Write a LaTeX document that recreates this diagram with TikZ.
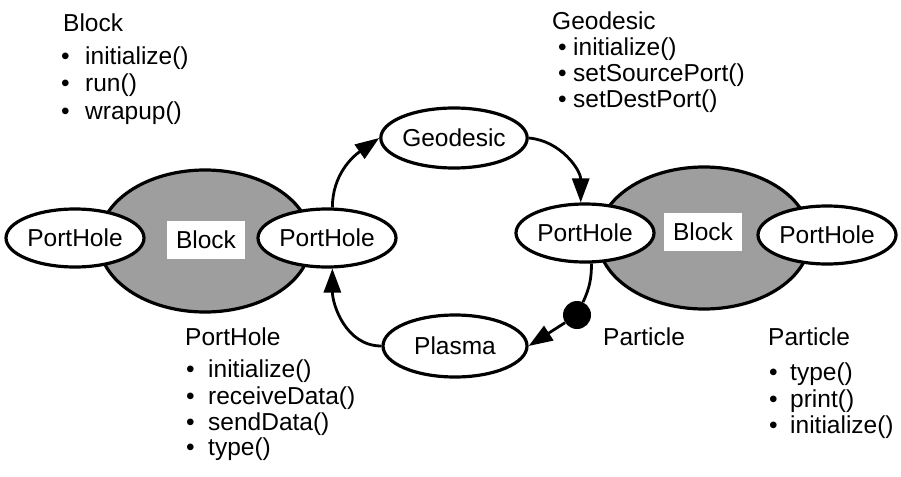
\documentclass[tikz,border=0pt]{standalone}
\usepackage{fontspec}
\setmainfont{Liberation Sans}
\usetikzlibrary{shapes.geometric,arrows.meta}
\begin{document}
\begin{tikzpicture}[x=1pt,y=-1pt,
  every node/.style={font=\fontsize{24.5}{28}\selectfont},
  blockbody/.style={ellipse,draw,line width=3.2pt,fill=black!38,
    minimum width=212pt,minimum height=142pt,inner sep=0pt},
  blocklabel/.style={fill=white,inner sep=0pt,minimum width=78pt,minimum height=38pt},
  port/.style={ellipse,draw,line width=3.2pt,fill=white,
    minimum width=138pt,minimum height=58pt,inner sep=0pt},
  flow/.style={line width=2.8pt,-{Triangle[length=24pt,width=17pt]}},
  plainflow/.style={line width=2.8pt},
  txt/.style={anchor=base west,inner sep=0pt},
]
\useasboundingbox (0,0) rectangle (901,476);

% left block with its two portholes
\node[blockbody] (blkA) at (205,241) {};
\node[blocklabel] (blkAlbl) at (206,240) {Block};
\node[port] (phA1) at (75,238) {PortHole};
\node[port] (phA2) at (327,238) {PortHole};

% right block with its two portholes
\node[blockbody] (blkB) at (704,238) {};
\node[blocklabel] (blkBlbl) at (703,232) {Block};
\node[port] (phB1) at (585,233) {PortHole};
\node[port] (phB2) at (827,235) {PortHole};

% geodesic and plasma
\node[port,minimum width=140pt,minimum height=60pt] (geo) at (454,138) {Geodesic};
\node[port,minimum width=144pt,minimum height=62pt] (pla) at (455,346) {Plasma};

% particle
\node[circle,fill=black,minimum size=28pt,inner sep=0pt] (part) at (577,315) {};

% connectors
\draw[flow] (phA2.80) to[out=90,in=215] (geo.west);
\draw[flow] (geo.east) to[out=-5,in=90] (phB1.98);
\draw[plainflow] (phB1.-78) to[out=-90,in=65] (part);
\draw[flow] (part) -- (pla.east);
\draw[flow] (pla.west) to[out=180,in=-90] (phA2.-80);

% method lists
\node[txt] (tBlock) at (63,32) {Block};
\node[txt] (bBlock1) at (61,65) {•};
\node[txt] (iBlock1) at (85,65) {initialize()};
\node[txt] (bBlock2) at (61,92) {•};
\node[txt] (iBlock2) at (85,92) {run()};
\node[txt] (bBlock3) at (61,119) {•};
\node[txt] (iBlock3) at (85,119) {wrapup()};

\node[txt] (tGeo) at (552,30) {Geodesic};
\node[txt] (bGeo1) at (558,56) {•};
\node[txt] (iGeo1) at (573,56) {initialize()};
\node[txt] (bGeo2) at (558,82) {•};
\node[txt] (iGeo2) at (573,82) {setSourcePort()};
\node[txt] (bGeo3) at (558,108) {•};
\node[txt] (iGeo3) at (573,108) {setDestPort()};

\node[txt] (tPort) at (185,345) {PortHole};
\node[txt] (bPort1) at (186,377) {•};
\node[txt] (iPort1) at (208,377) {initialize()};
\node[txt] (bPort2) at (186,404) {•};
\node[txt] (iPort2) at (208,404) {receiveData()};
\node[txt] (bPort3) at (186,430) {•};
\node[txt] (iPort3) at (208,430) {sendData()};
\node[txt] (bPort4) at (186,455) {•};
\node[txt] (iPort4) at (208,455) {type()};

\node[txt] (tPart) at (603,345) {Particle};

\node[txt] (tPartL) at (768,345) {Particle};
\node[txt] (bPartL1) at (769,380) {•};
\node[txt] (iPartL1) at (790,380) {type()};
\node[txt] (bPartL2) at (769,407) {•};
\node[txt] (iPartL2) at (790,407) {print()};
\node[txt] (bPartL3) at (769,433) {•};
\node[txt] (iPartL3) at (790,433) {initialize()};
\end{tikzpicture}
\end{document}
